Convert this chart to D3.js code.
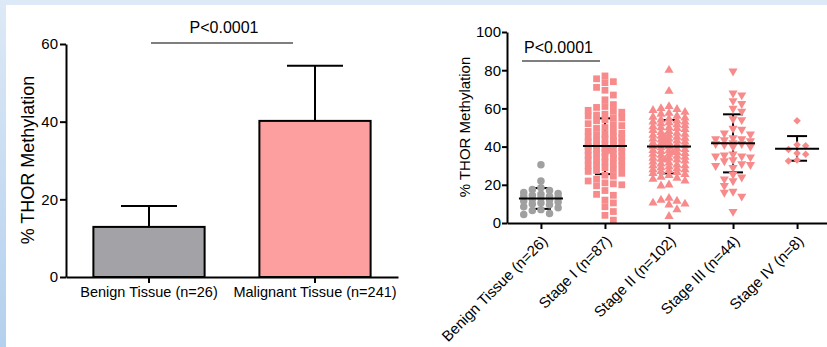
<!DOCTYPE html>
<html>
<head>
<meta charset="utf-8">
<script src="https://cdn.jsdelivr.net/npm/d3@7"></script>
<style>
  html, body { margin: 0; padding: 0; background: #fff; }
  svg { display: block; font-family: "Liberation Sans", Arial, sans-serif; }
</style>
</head>
<body>
<svg id="chart" width="827" height="347"></svg>
<script>
// ---------- DATA ----------
const leftCategories = ["Benign Tissue (n=26)", "Malignant Tissue (n=241)"];
const leftMeans = [12.9, 40.2];
const leftUpper = [18.3, 54.4];
const leftTicks = [0, 20, 40, 60];

const rightCategories = ["Benign Tissue (n=26)", "Stage I (n=87)", "Stage II (n=102)", "Stage III (n=44)", "Stage IV (n=8)"];
const benignValues = [30.5, 22, 18.5, 17.5, 17, 16, 15.5, 15, 14.5, 14, 14, 13.5, 13, 12.5, 12, 11.5, 11, 10.5, 10, 9.5, 8.5, 8, 7, 6.5, 5, 4.5];
const stage1Values = [77, 75.5, 74, 73.5, 71, 69.5, 67, 64.5, 62, 61,
  60.5, 59, 58.5, 58, 57, 56.5, 56, 55, 55, 54,
  53.5, 52, 51.5, 51, 50, 49.5, 48, 48, 47, 46.5,
  46, 45, 45, 44.5, 44, 43, 43, 42.5, 42, 41,
  41, 40.5, 40, 39.5, 39, 39, 38.5, 38, 38, 37.5, 37,
  36, 36, 35.5, 35, 34.5, 34, 33, 33, 32.5, 32,
  31, 30.5, 30, 29.5, 29, 28, 27.5, 27, 26, 25,
  24.5, 23, 22, 21, 20.5, 20, 19.5, 17, 15, 14.5,
  12, 10.5, 8.5, 6, 4, 1.5];
const stage2Values = [80, 69, 61, 60, 59.5, 59, 58, 57.5, 57, 56,
  55.5, 55, 54.5, 54, 53.5, 53, 53, 52.5, 52, 51.5, 51,
  50.5, 50, 50, 49.5, 49, 48.5, 48, 47.5, 47, 46.5, 46,
  46, 45.5, 45, 45, 44.5, 44, 44, 43.5, 43, 43, 42.5, 42,
  42, 41.5, 41, 41, 40.5, 40, 40, 39.5, 39, 38.5, 38,
  38, 37.5, 37, 37, 36.5, 36, 36, 35.5, 35, 34.5, 34,
  34, 33.5, 33, 33, 32.5, 32, 31.5, 31, 30.5, 30, 30,
  29.5, 29, 28.5, 28, 28, 27.5, 27, 26.5, 26, 25.5, 25,
  24, 23.5, 23, 22, 20, 19.5, 13, 12, 11.5, 10.5,
  10, 9.5, 7, 3.5];
const stage3Values = [79.5, 68, 67, 64, 62.5, 60, 58.5, 54.5, 54, 49.5,
  49, 47, 46.5, 44.5, 44, 44, 43.5, 43, 42, 41.5,
  41.5, 41, 40, 40, 36, 35.5, 35, 35, 34.5, 33,
  32.5, 31, 30.5, 30, 29, 25.5, 24, 23, 22, 19.5,
  16.5, 16, 14, 6];
const stage4Values = [53.5, 41, 40.5, 38.5, 36.5, 36, 33, 32.5];
const rightMeans = [12.8, 40.3, 40.0, 41.7, 38.9];
const rightLower = [7.4, 25.6, 26.0, 26.5, 32.6];
const rightUpper = [18.3, 54.8, 53.9, 56.9, 45.5];
const rightTicks = [0, 20, 40, 60, 80, 100];
const pLabel = "P<0.0001";
const yLabel = "% THOR Methylation";

// ---------- STYLE ----------
const pink = "#f78b8b";
const grey = "#a0a0a0";
const barFills = ["#a3a2a6", "#fd9f9f"];

const svg = d3.select("#chart");

// frame
const defs = svg.append("defs");
const grad = defs.append("linearGradient").attr("id", "leftband").attr("x1", 0).attr("y1", 0).attr("x2", 0).attr("y2", 1);
grad.append("stop").attr("offset", "0%").attr("stop-color", "#dde9f6");
grad.append("stop").attr("offset", "100%").attr("stop-color", "#b3d0ee");
svg.append("rect").attr("x", 0).attr("y", 0).attr("width", 827).attr("height", 347).attr("fill", "#fff");
svg.append("rect").attr("x", 0).attr("y", 0).attr("width", 827).attr("height", 5).attr("fill", "#dde9f6");
svg.append("rect").attr("x", 0).attr("y", 0).attr("width", 6).attr("height", 347).attr("fill", "url(#leftband)");

function styleAxis(g, fs) {
  g.select(".domain").attr("stroke", "#000").attr("stroke-width", 2);
  g.selectAll(".tick line").attr("stroke", "#000").attr("stroke-width", 2);
  g.selectAll(".tick text").attr("fill", "#000").style("font-size", fs).style("font-family", "'Liberation Sans', Arial, sans-serif");
}

// ---------- LEFT: BAR CHART ----------
const xL = d3.scaleBand().domain(leftCategories).range([66, 398]).paddingInner(0.33).paddingOuter(0.165);
const yL = d3.scaleLinear().domain([0, 60]).range([277, 44]);

const gL = svg.append("g");
leftCategories.forEach((c, i) => {
  const cx = xL(c) + xL.bandwidth() / 2;
  gL.append("line").attr("x1", cx).attr("x2", cx).attr("y1", yL(leftMeans[i])).attr("y2", yL(leftUpper[i]))
    .attr("stroke", "#000").attr("stroke-width", 2);
  gL.append("line").attr("x1", cx - 28).attr("x2", cx + 28).attr("y1", yL(leftUpper[i])).attr("y2", yL(leftUpper[i]))
    .attr("stroke", "#000").attr("stroke-width", 2);
});
gL.selectAll("rect.bar").data(leftCategories).join("rect")
  .attr("class", "bar")
  .attr("x", d => xL(d))
  .attr("width", xL.bandwidth())
  .attr("y", (d, i) => yL(leftMeans[i]))
  .attr("height", (d, i) => yL(0) - yL(leftMeans[i]))
  .attr("fill", (d, i) => barFills[i])
  .attr("stroke", "#000").attr("stroke-width", 2);

const axLy = gL.append("g").attr("transform", "translate(66,0)")
  .call(d3.axisLeft(yL).tickValues(leftTicks).tickSize(6).tickSizeOuter(0).tickPadding(2));
styleAxis(axLy, "15px");
const axLx = gL.append("g").attr("transform", "translate(0,277)")
  .call(d3.axisBottom(xL).tickSize(6).tickSizeOuter(0).tickPadding(4));
styleAxis(axLx, "14.5px");

gL.append("line").attr("x1", xL(leftCategories[0]) + xL.bandwidth() / 2 + 2).attr("x2", xL(leftCategories[1]) + xL.bandwidth() / 2 - 22)
  .attr("y1", 43).attr("y2", 43).attr("stroke", "#000").attr("stroke-width", 1.2);
gL.append("text").attr("x", 224).attr("y", 33).attr("text-anchor", "middle").attr("font-size", "16px").text(pLabel);
gL.append("text").attr("transform", "translate(34,160) rotate(-90)").attr("text-anchor", "middle")
  .attr("font-size", "18px").text(yLabel);

// ---------- RIGHT: SCATTER ----------
const xR = d3.scalePoint().domain(rightCategories).range([507, 831]).padding(0.53);
const yR = d3.scaleLinear().domain([0, 100]).range([223, 32]);
const gR = svg.append("g");

const groups = [
  { vals: benignValues, sym: d3.symbolCircle, size: 44, rot: 0, color: grey, w: 8.6, h: 6.0 },
  { vals: stage1Values, sym: d3.symbolSquare, size: 46, rot: 0, color: pink, w: 8.4, h: 6.5 },
  { vals: stage2Values, sym: d3.symbolTriangle, size: 36, rot: 0, color: pink, w: 8.0, h: 6.0 },
  { vals: stage3Values, sym: d3.symbolTriangle, size: 36, rot: 180, color: pink, w: 8.7, h: 6.5 },
  { vals: stage4Values, sym: d3.symbolSquare, size: 28, rot: 45, color: pink, w: 8.6, h: 6.0 }
];

// GraphPad-like scatter: columns on a grid, max 5 wide, overlap allowed when crowded
function swarm(values, cx, w, h) {
  const pts = values.map(v => ({ v, y: yR(v) })).sort((a, b) => a.y - b.y);
  const placed = [];
  const cand = [0, 1, -1, 2, -2, 0.5, -0.5, 1.5, -1.5];
  pts.forEach((p, idx) => {
    const sign = (idx % 2 === 0) ? 1 : -1;
    let best = null, bestScore = -1;
    for (const c of cand) {
      const x = cx + sign * c * w;
      let score = Infinity;
      placed.forEach(q => {
        const s = Math.max(Math.abs(q.x - x) / w, Math.abs(q.y - p.y) / h);
        if (s < score) score = s;
      });
      if (score >= 0.97) { best = x; bestScore = score; break; }
      if (score > bestScore + 1e-6) { bestScore = score; best = x; }
    }
    p.x = best;
    placed.push(p);
  });
  return placed;
}

// SD lines (under points)
rightCategories.forEach((c, i) => {
  const cx = xR(c);
  const cw = 10;
  gR.append("line").attr("x1", cx).attr("x2", cx).attr("y1", yR(rightLower[i])).attr("y2", yR(rightUpper[i]))
    .attr("stroke", "#000").attr("stroke-width", 2);
  [rightLower[i], rightUpper[i]].forEach(v => {
    gR.append("line").attr("x1", cx - cw).attr("x2", cx + cw).attr("y1", yR(v)).attr("y2", yR(v))
      .attr("stroke", "#000").attr("stroke-width", 2);
  });
});

groups.forEach((g, i) => {
  const cx = xR(rightCategories[i]);
  const pts = swarm(g.vals, cx, g.w, g.h);
  const sym = d3.symbol().type(g.sym).size(g.size);
  gR.append("g").selectAll("path").data(pts).join("path")
    .attr("d", sym)
    .attr("transform", d => `translate(${d.x},${d.y}) rotate(${g.rot})`)
    .attr("fill", g.color);
});

// mean lines on top
rightCategories.forEach((c, i) => {
  const cx = xR(c);
  gR.append("line").attr("x1", cx - 22).attr("x2", cx + 22).attr("y1", yR(rightMeans[i])).attr("y2", yR(rightMeans[i]))
    .attr("stroke", "#000").attr("stroke-width", 2);
});

const axRy = gR.append("g").attr("transform", "translate(507,0)")
  .call(d3.axisLeft(yR).tickValues(rightTicks).tickSize(5).tickSizeOuter(0).tickPadding(1));
styleAxis(axRy, "15px");
const axRx = gR.append("g").attr("transform", "translate(0,223)")
  .call(d3.axisBottom(xR).tickSize(6).tickSizeOuter(0));
styleAxis(axRx, "15px");
axRx.selectAll(".tick text")
  .attr("text-anchor", "end")
  .attr("dy", "0")
  .attr("y", 0)
  .attr("transform", "translate(7,19) rotate(-45)");

gR.append("line").attr("x1", 522).attr("x2", 600).attr("y1", 61).attr("y2", 61).attr("stroke", "#000").attr("stroke-width", 1.2);
gR.append("text").attr("x", 524).attr("y", 53).attr("font-size", "16px").text(pLabel);
gR.append("text").attr("transform", "translate(470,127) rotate(-90)").attr("text-anchor", "middle")
  .attr("font-size", "15px").text(yLabel);
</script>
</body>
</html>
